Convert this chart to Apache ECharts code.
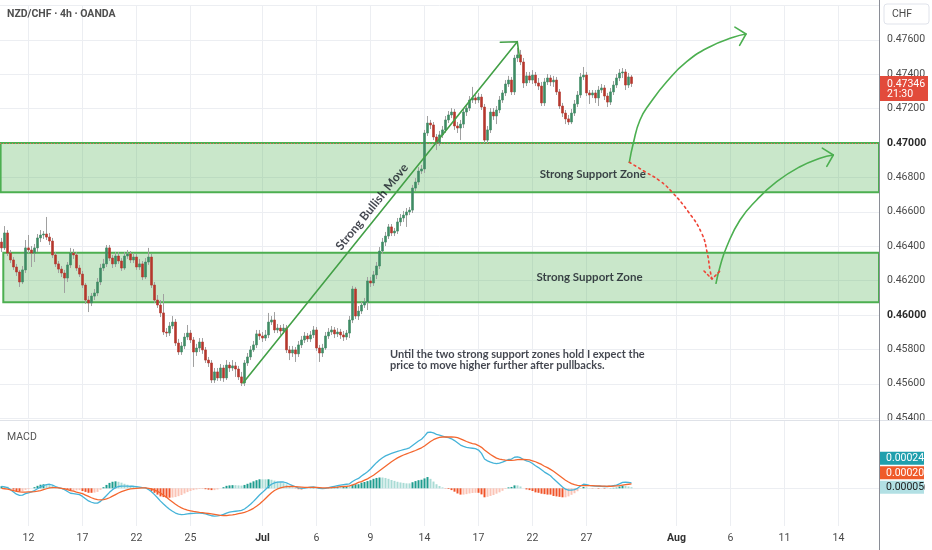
<!DOCTYPE html>
<html><head><meta charset="utf-8">
<script src="https://cdn.jsdelivr.net/npm/echarts/dist/echarts.min.js"></script>
<style>html,body{margin:0;padding:0;background:#fff}#c{width:932px;height:550px}</style>
</head><body><div id="c"></div>
<script>
// ---------------- data ----------------
const N_BARS = 293; // 4h bars on the time scale (incl. empty future area)
const tickIndex = [9, 27, 45, 63, 87, 105, 123, 141, 159, 177, 195, 225, 243, 261, 279];
const tickLabel = ['12','17','22','25','Jul','6','9','14','17','22','27','Aug','6','11','14'];
// OHLC, price x 1e5 : [open, close, low, high]
const ohlc5 = [
[46424,46390,46366,46448],[46390,46477,46378,46517],[46477,46360,46343,46494],[46360,46320,46302,46378],[46320,46279,46262,46337],
[46279,46250,46227,46297],[46250,46192,46163,46262],[46192,46262,46180,46285],[46262,46390,46244,46436],[46390,46378,46360,46465],
[46378,46360,46279,46401],[46360,46390,46308,46413],[46390,46448,46366,46471],[46448,46465,46424,46494],[46465,46471,46442,46488],
[46471,46453,46436,46570],[46453,46430,46407,46477],[46430,46349,46331,46448],[46349,46297,46279,46366],[46297,46267,46244,46314],
[46267,46244,46221,46285],[46244,46215,46128,46262],[46215,46291,46192,46308],[46291,46360,46273,46390],[46360,46349,46326,46384],
[46349,46273,46256,46366],[46273,46238,46221,46291],[46238,46174,46157,46256],[46174,46087,46064,46186],[46087,46070,46017,46110],
[46070,46110,46052,46128],[46110,46128,46087,46151],[46128,46192,46110,46215],[46192,46273,46174,46297],[46273,46297,46256,46326],
[46297,46390,46279,46407],[46390,46331,46314,46407],[46331,46297,46273,46349],[46297,46343,46279,46366],[46343,46314,46297,46366],
[46314,46273,46256,46331],[46273,46343,46262,46366],[46343,46355,46326,46378],[46355,46320,46302,46372],[46320,46337,46302,46360],
[46337,46279,46262,46355],[46279,46297,46262,46326],[46297,46221,46203,46314],[46221,46308,46209,46331],[46308,46337,46291,46390],
[46337,46174,46157,46355],[46174,46087,46070,46192],[46087,46058,46041,46116],[46058,46012,45988,46087],[46012,45901,45884,46122],
[45901,45895,45872,45924],[45895,45936,45878,45959],[45936,45959,45919,45994],[45959,45837,45820,45977],[45837,45785,45768,45861],
[45785,45820,45768,45843],[45820,45872,45802,45895],[45872,45895,45855,45942],[45895,45855,45837,45913],[45855,45785,45698,45872],
[45785,45808,45762,45832],[45808,45843,45785,45866],[45843,45797,45774,45866],[45797,45738,45721,45814],[45738,45721,45698,45756],
[45721,45622,45605,45738],[45622,45669,45605,45692],[45669,45634,45617,45692],[45634,45692,45617,45715],[45692,45634,45611,45709],
[45634,45709,45622,45738],[45709,45692,45669,45727],[45692,45704,45675,45738],[45704,45686,45640,45727],[45686,45640,45622,45704],
[45640,45605,45587,45669],[45605,45721,45587,45738],[45721,45756,45704,45779],[45756,45797,45738,45820],[45797,45826,45785,45849],
[45826,45890,45808,45913],[45890,45878,45855,45913],[45878,45866,45843,45901],[45866,45884,45849,45913],[45884,45959,45866,46012],
[45959,45971,45942,45994],[45971,45913,45895,46017],[45913,45924,45895,45948],[45924,45907,45884,45942],[45907,45924,45890,45948],
[45924,45797,45779,45942],[45797,45779,45738,45820],[45779,45797,45756,45820],[45797,45774,45727,45814],[45774,45826,45756,45849],
[45826,45855,45808,45878],[45855,45878,45837,45901],[45878,45861,45843,45895],[45861,45884,45843,45907],[45884,45913,45866,45936],
[45913,45808,45791,45930],[45808,45779,45727,45826],[45779,45808,45756,45832],[45808,45878,45797,45901],[45878,45901,45861,45924],
[45901,45913,45884,45936],[45913,45890,45866,45930],[45890,45901,45872,45924],[45901,45884,45861,45919],[45884,45872,45849,45907],
[45872,45895,45855,45913],[45895,45971,45866,45994],[45971,46151,45953,46169],[46151,45994,45977,46163],[45994,46023,45971,46052],
[46023,46058,46006,46076],[46058,46076,46041,46099],[46076,46198,46029,46221],[46198,46186,46163,46221],[46186,46233,46169,46256],
[46233,46285,46209,46308],[46285,46372,46267,46395],[46372,46424,46355,46448],[46424,46459,46401,46483],[46459,46512,46442,46529],
[46512,46477,46459,46529],[46477,46488,46459,46506],[46488,46541,46471,46564],[46541,46564,46517,46587],[46564,46581,46541,46605],
[46581,46599,46512,46622],[46599,46610,46581,46628],[46610,46738,46593,46756],[46738,46773,46721,46796],[46773,46837,46756,46860],
[46837,46849,46820,46872],[46849,47058,46826,47076],[47058,47116,47041,47157],[47116,47105,47081,47134],[47105,47035,47017,47122],
[47035,47000,46959,47052],[47000,47047,46983,47070],[47047,47076,47029,47099],[47076,47134,47058,47157],[47134,47163,47116,47186],
[47163,47180,47145,47203],[47180,47099,47076,47198],[47099,47087,47058,47122],[47087,47110,47017,47134],[47110,47180,47087,47203],
[47180,47203,47157,47227],[47203,47250,47186,47273],[47250,47262,47233,47326],[47262,47250,47227,47279],[47250,47267,47233,47291],
[47267,47209,47192,47285],[47209,47017,47000,47227],[47017,47076,47000,47099],[47076,47180,47058,47203],[47180,47157,47134,47203],
[47157,47192,47110,47215],[47192,47250,47174,47273],[47250,47291,47233,47308],[47291,47343,47273,47366],[47343,47366,47326,47390],
[47366,47297,47279,47384],[47297,47494,47279,47512],[47494,47512,47471,47553],[47512,47471,47453,47541],[47471,47349,47320,47494],
[47349,47390,47331,47413],[47390,47366,47349,47413],[47366,47395,47343,47424],[47395,47349,47331,47413],[47349,47331,47308,47378],
[47331,47233,47215,47355],[47233,47355,47215,47378],[47355,47378,47337,47401],[47378,47355,47331,47395],[47355,47366,47326,47390],
[47366,47297,47279,47384],[47297,47215,47198,47314],[47215,47174,47151,47233],[47174,47140,47110,47192],[47140,47122,47105,47163],
[47122,47174,47110,47198],[47174,47227,47157,47250],[47227,47279,47209,47302],[47279,47384,47262,47407],[47384,47395,47366,47442],
[47395,47291,47273,47413],[47291,47279,47227,47308],[47279,47291,47262,47308],[47291,47262,47233,47308],[47262,47308,47215,47331],
[47308,47320,47291,47343],[47320,47273,47250,47337],[47273,47238,47209,47291],[47238,47297,47221,47320],[47297,47337,47279,47360],
[47337,47378,47320,47401],[47378,47407,47360,47430],[47407,47413,47378,47436],[47413,47337,47308,47430],[47337,47384,47320,47407],
[47384,47346,47326,47395]
];
// MACD line and signal line, x 1e5
const macd5 = [
9,6,3,-6,-16,-26,-31,-30,-24,-20,
-16,-10,-2,6,12,16,18,14,8,3,
0,-6,-14,-22,-24,-26,-28,-36,-46,-56,
-62,-66,-66,-58,-45,-32,-18,-6,3,8,
10,10,10,9,9,7,5,3,2,-5,
-15,-28,-42,-57,-70,-82,-93,-102,-110,-115,
-117,-116,-114,-112,-111,-110,-110,-111,-114,-118,
-122,-124,-123,-120,-116,-110,-106,-104,-102,-100,
-98,-92,-82,-71,-58,-44,-30,-18,-5,8,
18,24,27,28,28,24,18,12,6,2,
0,1,3,5,6,3,0,-1,0,3,
6,9,12,14,16,18,20,30,38,44,
55,64,74,86,100,114,126,136,144,150,
155,160,164,168,172,175,180,190,200,210,
218,232,248,250,246,240,236,232,228,225,
220,212,202,192,186,182,180,178,176,170,
155,130,122,116,112,110,112,116,122,128,
130,138,140,136,128,122,118,110,100,92,
82,72,64,56,42,30,18,6,-4,-8,
-8,-6,0,10,18,16,13,11,10,9,
9,8,8,10,12,14,20,26,27,26,24.4
];
const signal5 = [
0,-2,-4,-7,-10,-14,-16,-17,-17,-16,
-16,-15,-13,-10,-6,-2,2,3,3,2,
0,-3,-6,-10,-13,-17,-20,-24,-30,-36,
-42,-47,-50,-51,-50,-47,-42,-35,-28,-21,
-15,-10,-6,-3,-1,0,1,2,2,0,
-3,-8,-14,-21,-31,-40,-51,-61,-71,-80,
-87,-93,-97,-100,-103,-105,-107,-108,-110,-112,
-114,-116,-118,-120,-121,-121,-119,-118,-116,-113,
-110,-107,-102,-96,-89,-80,-70,-58,-45,-32,
-20,-10,-3,2,5,7,8,8,7,6,
5,4,4,4,4,4,3,2,2,2,
3,4,5,7,8,9,11,15,20,26,
30,36,42,50,58,68,78,88,98,108,
118,127,135,142,148,153,158,163,168,174,
180,188,198,208,216,222,226,228,229,228,
228,227,225,220,214,208,203,199,196,190,
182,170,160,150,142,134,130,127,125,124,
124,125,127,128,128,127,126,122,118,112,
106,98,92,84,76,66,56,46,36,28,
21,16,13,12,12,12,12,12,11,11,
10,10,9,9,10,11,12,14,16,18,19.6
];
// support zones [fromBar, toBar, top, bottom]
const zones = [[-0.3, 292.5, 0.47000, 0.46713], [0.6, 292.5, 0.46362, 0.46074]];
// drawings in [bar, price]
const arrowMain = [[80.5,0.45605],[171.93,0.47589]];
const arrowMainHead = [[166.27,0.475855],[171.93,0.47589],[172.67,0.474971]];
const curveUp1 = [[209.27,0.468878],[210.6,0.469983],[212.83,0.471337],[216.17,0.472308],[221.73,0.473564],[228.4,0.474727],[236.17,0.475599],[243.93,0.476145],[248.17,0.476337]];
const curveUp1Head = [[244.47,0.476733],[248.17,0.476337],[246.03,0.475680]];
const curveUp2 = [[238.17,0.461843],[239.5,0.462808],[241.73,0.463971],[246.17,0.465523],[251.73,0.466686],[258.4,0.467750],[266.17,0.468622],[272.83,0.469110],[277.27,0.469302]];
const curveUp2Head = [[273.6,0.469703],[277.27,0.469302],[275.1,0.468645]];
const curveDown = [[209.27,0.468878],[214.5,0.468331],[219.5,0.467791],[223.4,0.467169],[228.93,0.466006],[233.4,0.464750],[235.27,0.463587],[236.17,0.462616],[236.83,0.462093]];
const curveDownHead = [[234.17,0.462558],[236.83,0.462093],[239.5,0.462558]];
const noteText = ['Strong Support Zone','Strong Support Zone','Strong Bullish Move','Until the two strong support zones hold I expect the\nprice to move higher further after pullbacks.'];
const noteAt = [[197.1,0.468198],[196,0.462209],[123.5,0.466279],[129.5,0.458023]];
const titleText = 'NZD/CHF · 4h · OANDA';
const countdown = '21:30';

// ---------------- build ----------------
const UP = '#3f8b64', DOWN = '#b5372d', WICK = '#a0a0a0', GRID = '#eceef2';
const GREEN = '#4caf50', RED = '#ef4437';
const FONT = 'Roboto';
const cats = Array.from({length: N_BARS}, (_, i) => String(i));
const tickMap = {}; tickIndex.forEach((t, k) => tickMap[t] = tickLabel[k]);
const candleData = ohlc5.map(r => r.map(v => v / 1e5));
const bodyData = candleData.map(([o, c]) => [o, c, Math.min(o, c), Math.max(o, c)]);
const macd = macd5.map(v => v / 1e5), signal = signal5.map(v => v / 1e5);
const hist = macd.map((m, i) => m - signal[i]);
const histData = hist.map((h, i) => {
  const p = i ? hist[i - 1] : 0;
  const col = h >= 0 ? (h > p ? '#1f9d8f' : '#a9dbd5') : (h < p ? '#f05328' : '#fbc3b5');
  return {value: h, itemStyle: {color: col}};
});
const lastClose = candleData[candleData.length - 1][1];

function lineSeries(data, color, opts) {
  return Object.assign({type: 'line', xAxisIndex: 2, yAxisIndex: 0, data: data, showSymbol: false, symbol: 'none',
    silent: true, z: 6, lineStyle: {color: color, width: 1.6, cap: 'round', join: 'round'}}, opts || {});
}
const vLines = tickIndex.map(i => ({xAxis: i}));
const noteFont = {color: '#131722', fontFamily: 'Lato', fontWeight: 'bold'};

const option = {
  animation: false,
  backgroundColor: '#ffffff',
  grid: [
    {left: 0, right: 53, top: 5.4, height: 412.8, containLabel: false, outerBoundsMode: 'none'},
    {left: 0, right: 53, top: 421, height: 105, containLabel: false, outerBoundsMode: 'none'}
  ],
  xAxis: [
    {type: 'category', gridIndex: 0, data: cats, boundaryGap: true, show: false},
    {type: 'category', gridIndex: 1, data: cats, boundaryGap: true,
      axisLine: {show: true, lineStyle: {color: '#8a8d96', width: 1}}, axisTick: {show: false}, splitLine: {show: false},
      axisLabel: {show: true, interval: (i) => tickMap[i] !== undefined, margin: 7, color: '#4a4a4a', fontSize: 10.5, fontFamily: FONT,
        formatter: (v, i) => { const t = tickMap[i] || ''; return (t === 'Jul' || t === 'Aug') ? '{b|' + t + '}' : t; },
        rich: {b: {fontWeight: 'bold', color: '#333', fontSize: 10.5, fontFamily: FONT}}}},
    {type: 'value', gridIndex: 0, min: -0.5, max: N_BARS - 0.5, show: false},
    {type: 'value', gridIndex: 1, min: -0.5, max: N_BARS - 0.5, show: false}
  ],
  yAxis: [
    {type: 'value', gridIndex: 0, position: 'right', min: 0.454, max: 0.478, interval: 0.002,
      axisLine: {show: false}, axisTick: {show: false},
      axisLabel: {color: '#4a4a4a', fontSize: 10.5, fontFamily: FONT, margin: 8, showMaxLabel: false,
        formatter: v => { const s = v.toFixed(5); return (s === '0.47000' || s === '0.46000') ? '{b|' + s + '}' : s; },
        rich: {b: {fontWeight: 'bold', color: '#2a2a2a', fontSize: 10.5, fontFamily: FONT}}},
      splitLine: {show: true, lineStyle: {color: GRID, width: 1}}},
    {type: 'value', gridIndex: 1, min: -0.0016756, max: 0.0029911, show: false}
  ],
  series: [
    {name: 'vgrid0', type: 'line', xAxisIndex: 2, yAxisIndex: 0, data: [], silent: true, z: 0,
      markLine: {z: 0, silent: true, symbol: ['none', 'none'], label: {show: false}, animation: false,
        lineStyle: {color: GRID, width: 1, type: 'solid'}, data: vLines}},
    {name: 'zones', type: 'line', xAxisIndex: 2, yAxisIndex: 0, data: [], silent: true, z: 3,
      markArea: {z: 2, silent: true, itemStyle: {color: 'rgba(76,175,80,0.30)', borderColor: GREEN, borderWidth: 2},
        data: zones.map(z => [{coord: [z[0], z[2]]}, {coord: [z[1], z[3]]}])}},
    {name: 'wicks', type: 'candlestick', xAxisIndex: 0, yAxisIndex: 0, data: candleData, barWidth: 1, z: 4, silent: true,
      itemStyle: {color: WICK, color0: WICK, borderColor: WICK, borderColor0: WICK, borderWidth: 1}},
    {name: 'bodies', type: 'candlestick', xAxisIndex: 0, yAxisIndex: 0, data: bodyData, barWidth: 2, z: 5, silent: true,
      itemStyle: {color: UP, color0: DOWN, borderColor: UP, borderColor0: DOWN, borderWidth: 0.6},
      markLine: {silent: true, symbol: ['none', 'none'], label: {show: false},
        lineStyle: {color: '#e8675a', width: 1, type: [1, 2]}, data: [{yAxis: lastClose}]}},
    lineSeries(arrowMain, '#43a047'),
    lineSeries(arrowMainHead, '#43a047'),
    lineSeries(curveUp1, GREEN, {smooth: 0.5}),
    lineSeries(curveUp1Head, GREEN),
    lineSeries(curveUp2, GREEN, {smooth: 0.5}),
    lineSeries(curveUp2Head, GREEN),
    lineSeries(curveDown, RED, {smooth: 0.5, lineStyle: {color: RED, width: 1.6, type: [2, 3.5], cap: 'round'}}),
    lineSeries(curveDownHead, RED, {lineStyle: {color: RED, width: 1.6, type: [2, 3], cap: 'round'}}),
    {name: 'notes', type: 'scatter', xAxisIndex: 2, yAxisIndex: 0, symbolSize: 1, silent: true, z: 7,
      itemStyle: {color: 'rgba(0,0,0,0)'},
      label: Object.assign({show: true, position: 'inside', fontSize: 11.5, formatter: p => p.name}, noteFont),
      data: noteAt.map((c, k) => {
        const d = {name: noteText[k], value: c};
        if (k === 2) d.label = {rotate: 51, fontSize: 12};
        if (k === 3) d.label = {align: 'left', verticalAlign: 'top', fontSize: 11, lineHeight: 11};
        return d;
      })},
    // MACD pane
    {name: 'vgrid1', type: 'line', xAxisIndex: 3, yAxisIndex: 1, data: [], silent: true, z: 0,
      markLine: {z: 0, silent: true, symbol: ['none', 'none'], label: {show: false},
        lineStyle: {color: GRID, width: 1, type: 'solid'}, data: vLines}},
    {name: 'hist', type: 'bar', xAxisIndex: 1, yAxisIndex: 1, data: histData, barWidth: 2, silent: true, z: 3,
      markLine: {z: 1, silent: true, symbol: ['none', 'none'], lineStyle: {color: GRID, width: 1, type: 'solid'},
        label: {show: false},
        data: [{yAxis: 0.002, label: {show: true, position: 'end', distance: 8, formatter: '0.00200', color: '#4a4a4a', fontSize: 10.5, fontFamily: FONT}},
               {yAxis: 0}]}},
    {name: 'macd', type: 'line', xAxisIndex: 1, yAxisIndex: 1, data: macd, showSymbol: false, symbol: 'none', silent: true, z: 4,
      lineStyle: {color: '#45b3d8', width: 1.3}},
    {name: 'signal', type: 'line', xAxisIndex: 1, yAxisIndex: 1, data: signal, showSymbol: false, symbol: 'none', silent: true, z: 4,
      lineStyle: {color: '#f4672f', width: 1.3}}
  ]
};

const chart = echarts.init(document.getElementById('c'), null, {renderer: 'canvas'});
chart.setOption(option);

// axis tags placed through the library's scales
const py = chart.convertToPixel({yAxisIndex: 0}, lastClose);
const lastM = macd[macd.length - 1], lastS = signal[signal.length - 1], lastH = hist[hist.length - 1];
const hy = chart.convertToPixel({yAxisIndex: 1}, lastH);
function txt(id, x, y, s, fill, font) {
  return {type: 'text', id: id, x: x, y: y, z: 101, silent: true,
    style: {text: s, fill: fill, font: font || ('10.5px ' + FONT), textVerticalAlign: 'middle', verticalAlign: 'middle', textAlign: 'left', align: 'left'}};
}
function tag(id, yc, bg, fg, s) {
  return [
    {type: 'rect', id: id + 'r', z: 100, silent: true, shape: {x: 880, y: yc - 6.5, width: 44, height: 13}, style: {fill: bg}},
    txt(id + 't', 886, yc + 0.5, s, fg)
  ];
}
chart.setOption({graphic: [
  {type: 'line', id: 'sep', z: 60, silent: true, shape: {x1: 0, y1: 420.5, x2: 932, y2: 420.5}, style: {stroke: '#dfe2e8', lineWidth: 1}},
  {type: 'rect', id: 'cover', z: 55, silent: true, shape: {x: 880.5, y: 420, width: 52, height: 6}, style: {fill: '#ffffff'}},
  {type: 'line', id: 'vax', z: 60, silent: true, shape: {x1: 879.5, y1: 0, x2: 879.5, y2: 550}, style: {stroke: '#8a8d96', lineWidth: 1}},
  {type: 'rect', id: 'chf', z: 60, silent: true, shape: {x: 884, y: 4, width: 45, height: 20, r: 3}, style: {fill: '#ffffff', stroke: '#e0e3eb', lineWidth: 1}},
  txt('chft', 892, 14.5, 'CHF', '#4a4a4a'),
  txt('title', 7, 14, titleText, '#4f4f4f', 'bold 10.5px ' + FONT),
  txt('macdl', 7, 437, 'MACD', '#555555'),
  {type: 'rect', id: 'ptag', z: 100, silent: true, shape: {x: 880, y: py - 7.5, width: 48, height: 25}, style: {fill: '#e24b3b'}},
  txt('ptag1', 887, py + 0.5, lastClose.toFixed(5), '#ffffff'),
  txt('ptag2', 887, py + 11, countdown, '#ffffff'),
  ...tag('mt', hy - 29, '#1f9fad', '#ffffff', lastM.toFixed(5)),
  ...tag('st', hy - 14.5, '#ef5b2b', '#ffffff', lastS.toFixed(5)),
  ...tag('ht', hy, '#b2e0e4', '#1a1a1a', lastH.toFixed(5))
]});
</script>
</body></html>
